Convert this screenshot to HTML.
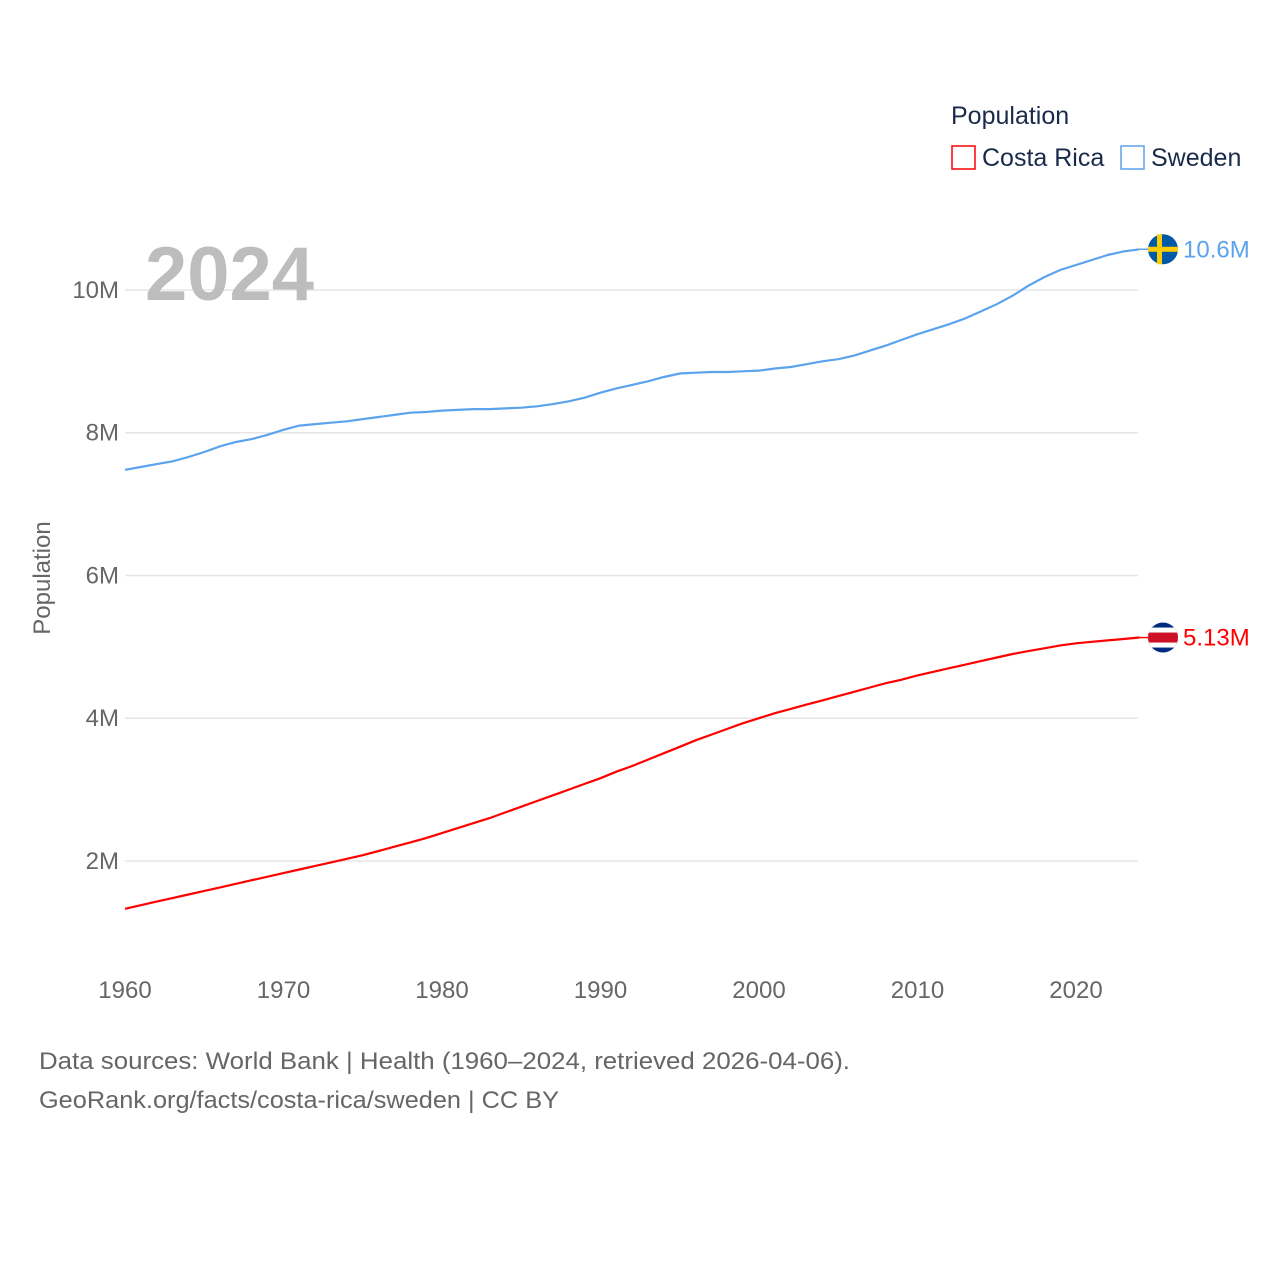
<!DOCTYPE html>
<html><head><meta charset="utf-8">
<style>
body{margin:0;background:#fff;font-family:"Liberation Sans",sans-serif;}
svg text{font-family:"Liberation Sans",sans-serif;}
</style></head>
<body>
<svg width="1280" height="1280" viewBox="0 0 1280 1280">
<g id="grid"></g>
<g id="yticks"></g>
<g id="xticks"></g>
<text x="50" y="578" transform="rotate(-90 50 578)" text-anchor="middle" font-size="24" fill="#666">Population</text>
<text x="145" y="300" font-size="76" font-weight="bold" fill="#bdbdbd">2024</text>
<g id="series"></g>
<g>
<text x="951" y="124" font-size="25" fill="#1a2a4a">Population</text>
<g>
<rect x="952" y="146" width="23" height="23" fill="none" stroke="#f00" stroke-width="1.5"/>
<text x="982" y="166" font-size="25" fill="#1a2a4a">Costa Rica</text></g>
<g>
<rect x="1121" y="146" width="23" height="23" fill="none" stroke="#5ba3ec" stroke-width="1.5"/>
<text x="1151" y="166" font-size="25" fill="#1a2a4a">Sweden</text></g>
</g>
<text x="39" y="1069" font-size="24" fill="#666" textLength="811" lengthAdjust="spacingAndGlyphs">Data sources: World Bank | Health (1960–2024, retrieved 2026-04-06).</text>
<text x="39" y="1108" font-size="24" fill="#666" textLength="520" lengthAdjust="spacingAndGlyphs">GeoRank.org/facts/costa-rica/sweden | CC BY</text>
</svg>
<script>
const years=[];for(let y=1960;y<=2024;y++)years.push(y);
const sweden=[7.48,7.52,7.56,7.60,7.66,7.73,7.81,7.87,7.91,7.97,8.04,8.10,8.12,8.14,8.16,8.19,8.22,8.25,8.28,8.29,8.31,8.32,8.33,8.33,8.34,8.35,8.37,8.40,8.44,8.49,8.56,8.62,8.67,8.72,8.78,8.83,8.84,8.85,8.85,8.86,8.87,8.90,8.92,8.96,9.00,9.03,9.08,9.15,9.22,9.30,9.38,9.45,9.52,9.60,9.70,9.80,9.92,10.06,10.18,10.28,10.35,10.42,10.49,10.54,10.57];
const costaRica=[1.33,1.38,1.43,1.48,1.53,1.58,1.63,1.68,1.73,1.78,1.83,1.88,1.93,1.98,2.03,2.08,2.14,2.20,2.26,2.32,2.39,2.46,2.53,2.60,2.68,2.76,2.84,2.92,3.00,3.08,3.16,3.25,3.33,3.42,3.51,3.60,3.69,3.77,3.85,3.93,4.00,4.07,4.13,4.19,4.25,4.31,4.37,4.43,4.49,4.54,4.60,4.65,4.70,4.75,4.80,4.85,4.90,4.94,4.98,5.02,5.05,5.07,5.09,5.11,5.13];
const yTicks=[2,4,6,8,10];
const yTickLabels=["2M","4M","6M","8M","10M"];
const xTicks=[1960,1970,1980,1990,2000,2010,2020];
const NS="http://www.w3.org/2000/svg";
const X=y=>125+(y-1960)*15.85;
const Y=v=>1003.7-v*71.375;
function mk(t,a,p){const e=document.createElementNS(NS,t);for(const k in a)e.setAttribute(k,a[k]);p.appendChild(e);return e;}
const grid=document.getElementById('grid'),yt=document.getElementById('yticks'),xt=document.getElementById('xticks'),ser=document.getElementById('series');
yTicks.forEach((v,i)=>{
 const l=mk('line',{x1:125,x2:1138,y1:Y(v),y2:Y(v),stroke:'#e6e6e6','stroke-width':1.5},grid);
 
 
 const t=mk('text',{x:119,y:Y(v)+8,'text-anchor':'end','font-size':24,fill:'#666'},yt);
 t.textContent=yTickLabels[i];
 
 
});
xTicks.forEach(v=>{
 const t=mk('text',{x:X(v),y:998,'text-anchor':'middle','font-size':24,fill:'#666'},xt);
 t.textContent=v;
 
 
});
function line(vals,color,name){
 const d=vals.map((v,i)=>(i?'L':'M')+X(years[i]).toFixed(1)+','+Y(v).toFixed(1)).join('');
 const p=mk('path',{d:d,fill:'none',stroke:color,'stroke-width':2.2},ser);
 
 
 const last=vals[vals.length-1],ly=Y(last),lx=X(2024);
 mk('line',{x1:lx,x2:1150,y1:ly,y2:ly,stroke:color,'stroke-width':1.5},ser);
 return ly;
}
const sy=line(sweden,'#5ba3ec','sweden');
const cy=line(costaRica,'#f00','costa-rica');
const sf=mk('g',{},ser);


mk('circle',{cx:1163,cy:sy,r:15,fill:'#005aa8'},sf);
mk('rect',{x:1148,y:sy-2.5,width:30,height:5,fill:'#fecc02'},sf);
mk('rect',{x:1157,y:sy-15,width:5,height:30,fill:'#fecc02'},sf);
const cf=mk('g',{},ser);


const cp=mk('clipPath',{id:'cc'},cf);mk('circle',{cx:1163,cy:cy,r:15},cp);
const cg=mk('g',{'clip-path':'url(#cc)'},cf);
mk('rect',{x:1148,y:cy-15,width:30,height:30,fill:'#002b7f'},cg);
mk('rect',{x:1148,y:cy-10,width:30,height:20,fill:'#fff'},cg);
mk('rect',{x:1148,y:cy-5,width:30,height:10,fill:'#ce1126'},cg);
const t1=mk('text',{x:1183,y:sy+8,'font-size':24,fill:'#5ba3ec'},ser);t1.textContent='10.6M';


const t2=mk('text',{x:1183,y:cy+8,'font-size':24,fill:'#f00'},ser);t2.textContent='5.13M';


</script>
</body></html>
